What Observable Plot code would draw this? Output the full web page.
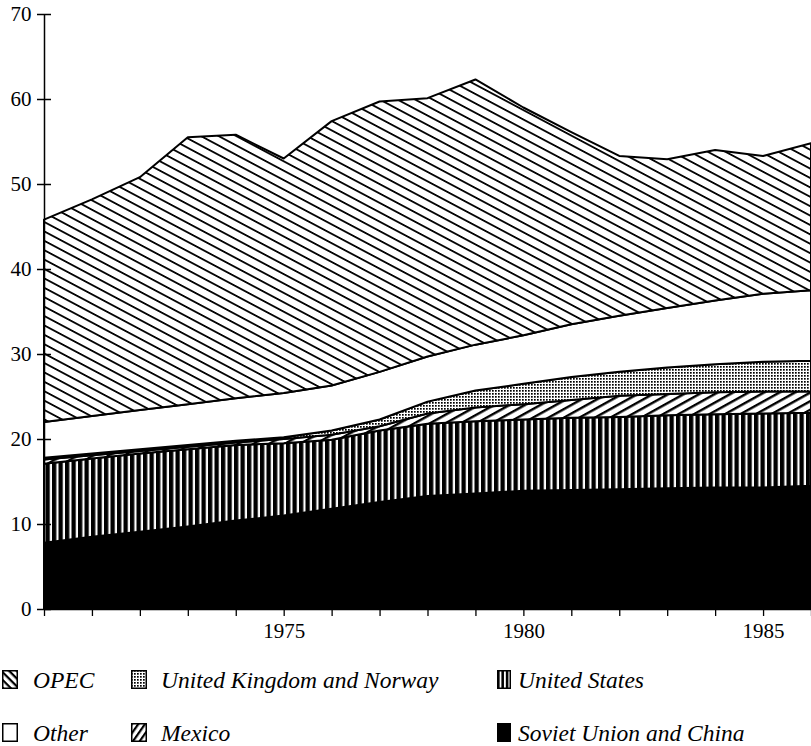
<!DOCTYPE html>
<html><head><meta charset="utf-8">
<script src="https://cdn.jsdelivr.net/npm/d3@7"></script>
<script src="https://cdn.jsdelivr.net/npm/@observablehq/plot@0.6"></script>
<style>
body{margin:0;background:#fff;font-family:"Liberation Serif","DejaVu Serif","Noto Serif",serif;}
#wrap{position:relative;width:811px;height:746px;overflow:hidden;background:#fff;}
#chart{position:absolute;left:0;top:0;}
.sw{position:absolute;}
.lt{position:absolute;font-family:"Liberation Serif","DejaVu Serif",serif;font-style:italic;font-size:23.5px;line-height:23.5px;white-space:nowrap;color:#000;}
</style></head><body>
<svg width="0" height="0" style="position:absolute"><defs>
<pattern id="p-opec" patternUnits="userSpaceOnUse" width="16" height="8.3" patternTransform="rotate(28)"><rect width="16" height="8.3" fill="#fff"/><rect width="16" height="1.8" fill="#000"/></pattern>
<pattern id="p-mex" patternUnits="userSpaceOnUse" width="16" height="7.5" patternTransform="rotate(-29)"><rect width="16" height="7.5" fill="#fff"/><rect width="16" height="2.4" fill="#000"/></pattern>
<pattern id="p-us" patternUnits="userSpaceOnUse" width="6.5" height="10"><rect width="6.5" height="10" fill="#000"/><rect x="4.3" width="2.2" height="10" fill="#fff"/></pattern>
<pattern id="p-uk" patternUnits="userSpaceOnUse" width="3" height="3"><rect width="3" height="3" fill="#fff"/><rect width="1.7" height="1.7" fill="#000"/></pattern>
<pattern id="l-opec" patternUnits="userSpaceOnUse" width="10" height="5.5" patternTransform="rotate(45)"><rect width="10" height="5.5" fill="#fff"/><rect width="10" height="2.2" fill="#000"/></pattern>
<pattern id="l-mex" patternUnits="userSpaceOnUse" width="10" height="5.5" patternTransform="rotate(-55)"><rect width="10" height="5.5" fill="#fff"/><rect width="10" height="2.2" fill="#000"/></pattern>
<pattern id="l-us" patternUnits="userSpaceOnUse" width="4.4" height="10"><rect width="4.4" height="10" fill="#000"/><rect x="2.6" width="1.8" height="10" fill="#fff"/></pattern>
</defs></svg>
<div id="wrap"><div id="chart"></div><div id="legend"></div></div>
<script>
const years = [1970,1971,1972,1973,1974,1975,1976,1977,1978,1979,1980,1981,1982,1983,1984,1985,1986];
const seriesNames = ["Soviet Union and China","United States","Mexico","United Kingdom and Norway","Other","OPEC"];
const sovietChina = [7.8,8.5,9.1,9.7,10.4,11.0,11.8,12.6,13.3,13.6,13.9,14.0,14.1,14.2,14.3,14.3,14.5];
const unitedStates = [9.3,9.2,9.2,9.1,8.9,8.5,8.1,8.4,8.5,8.5,8.4,8.5,8.5,8.6,8.6,8.7,8.6];
const mexico = [0.5,0.4,0.3,0.3,0.3,0.5,0.6,0.5,1.2,1.6,1.8,2.1,2.5,2.5,2.6,2.6,2.5];
const ukNorway = [0.2,0.2,0.2,0.2,0.2,0.2,0.5,0.8,1.4,2.0,2.4,2.7,2.8,3.1,3.3,3.5,3.6];
const other = [4.2,4.4,4.6,4.8,5.0,5.2,5.3,5.6,5.3,5.4,5.7,6.2,6.6,7.0,7.5,8.0,8.3];
const opec = [23.8,25.5,27.4,31.4,31.0,27.6,31.1,31.8,30.4,31.2,26.8,22.6,18.8,17.5,17.7,16.2,17.3];
const xTicks = years;
const xLabels = [1975,1980,1985];
const yTicks = [0,10,20,30,40,50,60,70];
const fills = ["#000","url(#p-us)","url(#p-mex)","url(#p-uk)","#fff","url(#p-opec)"];
const legendFills = {"OPEC":"url(#l-opec)","United Kingdom and Norway":"url(#p-uk)","United States":"url(#l-us)","Other":"#fff","Mexico":"url(#l-mex)","Soviet Union and China":"#000"};

const seriesValues = [sovietChina, unitedStates, mexico, ukNorway, other, opec];
const data = seriesNames.flatMap((s,i) => years.map((y,j) => ({year:y, series:s, value:seriesValues[i][j]})));

const chart = Plot.plot({
  width: 811, height: 650,
  marginTop: 14, marginBottom: 41, marginLeft: 44, marginRight: 0,
  style: {fontFamily: '"Liberation Serif", "DejaVu Serif", serif', fontSize: "21px", background: "transparent", color: "#000"},
  x: {domain: [1970, 1986]},
  y: {domain: [0, 70]},
  color: {domain: seriesNames, range: fills},
  marks: [
    Plot.areaY(data, {x: "year", y: "value", z: "series", fill: "series", order: seriesNames, stroke: "#000", strokeWidth: 2, strokeLinejoin: "round"}),
    Plot.ruleX([1970], {strokeWidth: 1.5}),
    Plot.ruleY([0], {strokeWidth: 1.5}),
    Plot.axisY(yTicks, {tickSize: 14, dx: 7, fill: "none", strokeWidth: 1.5, label: null}),
    Plot.axisY(yTicks, {tickSize: 7, tickPadding: 6, stroke: "none", label: null, fontSize: 21, fontFamily: '"Liberation Serif", "DejaVu Serif", serif'}),
    Plot.axisX(xTicks, {tickSize: 7, fill: "none", strokeWidth: 1.3, label: null}),
    Plot.axisX(xLabels, {tickSize: 7, tickPadding: 7, stroke: "none", label: null, fontSize: 21, fontFamily: '"Liberation Serif", "DejaVu Serif", serif', tickFormat: d => String(d)})
  ]
});
document.getElementById("chart").appendChild(chart);

// legend
const legendItems = [
  {name: "OPEC", col: 0, row: 0},
  {name: "United Kingdom and Norway", col: 1, row: 0},
  {name: "United States", col: 2, row: 0},
  {name: "Other", col: 0, row: 1},
  {name: "Mexico", col: 1, row: 1},
  {name: "Soviet Union and China", col: 2, row: 1}
];
const colSwatchX = [2, 131, 497];
const colTextX = [33, 161, 518];
const rowSwatchY = [670, 723];
const rowTextY = [669, 722];
const leg = document.getElementById("legend");
for (const it of legendItems) {
  const w = it.col === 2 ? 14 : 16;
  const sw = document.createElementNS("http://www.w3.org/2000/svg", "svg");
  sw.setAttribute("class", "sw");
  sw.setAttribute("width", w); sw.setAttribute("height", 19);
  sw.style.left = colSwatchX[it.col] + "px";
  sw.style.top = rowSwatchY[it.row] + "px";
  const r = document.createElementNS("http://www.w3.org/2000/svg", "rect");
  r.setAttribute("x", 0.75); r.setAttribute("y", 0.75);
  r.setAttribute("width", w - 1.5); r.setAttribute("height", 17.5);
  r.setAttribute("fill", legendFills[it.name]);
  r.setAttribute("stroke", "#000"); r.setAttribute("stroke-width", 1.5);
  sw.appendChild(r);
  leg.appendChild(sw);
  const t = document.createElement("div");
  t.className = "lt";
  t.textContent = it.name;
  t.style.left = colTextX[it.col] + "px";
  t.style.top = rowTextY[it.row] + "px";
  leg.appendChild(t);
}
</script>
</body></html>
